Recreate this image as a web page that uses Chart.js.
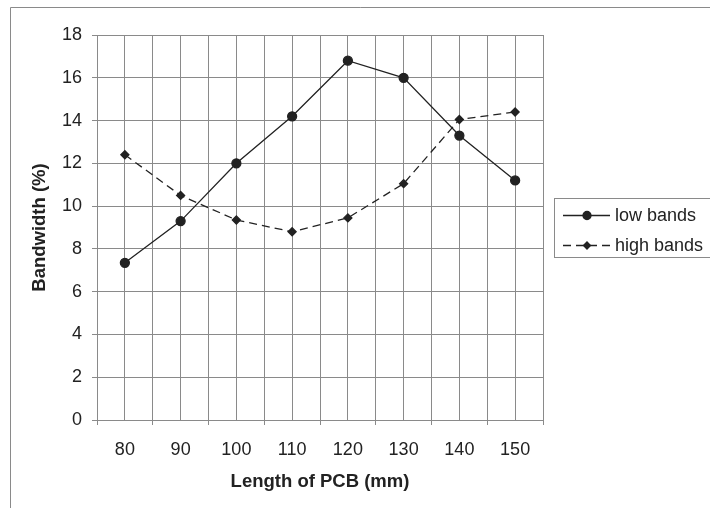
<!DOCTYPE html>
<html>
<head>
<meta charset="utf-8">
<script src="https://cdn.jsdelivr.net/npm/chart.js@4.4.1/dist/chart.umd.min.js"></script>
<style>
  body { margin: 0; background: #fff; }
  #wrap { position: relative; width: 710px; height: 508px; }
</style>
</head>
<body>
<div id="wrap"><canvas id="myChart"></canvas></div>
<script>
// Data
const lengths = [80, 90, 100, 110, 120, 130, 140, 150];
const lowBands = [7.35, 9.3, 12.0, 14.2, 16.8, 16.0, 13.3, 11.2];
const highBands = [12.4, 10.5, 9.35, 8.8, 9.45, 11.05, 14.05, 14.4];
const seriesNames = ['low bands', 'high bands'];

// Axis ranges
const yMin = 0, yMax = 18, yStep = 2;
const xMin = 75, xMax = 155, xStep = 5;

const ink = '#222';
const gridGray = '#8a8a8a';
const fontFamily = '"Liberation Sans", Arial, sans-serif';

function toPoints(values) {
  return lengths.map((x, i) => ({ x: x, y: values[i] }));
}

// frame round the whole figure and the legend box on the right
const framePlugin = {
  id: 'frame',
  beforeDraw(chart) {
    const ctx = chart.ctx;
    ctx.save();
    ctx.strokeStyle = gridGray;
    ctx.lineWidth = 1;
    ctx.beginPath();
    ctx.moveTo(10.5, 520);
    ctx.lineTo(10.5, 7.5);
    ctx.lineTo(720, 7.5);
    ctx.stroke();
    ctx.restore();
  },
  afterDraw(chart) {
    const ctx = chart.ctx;
    ctx.save();
    ctx.strokeStyle = gridGray;
    ctx.lineWidth = 1;
    ctx.strokeRect(554.5, 198.5, 170, 59);
    ctx.font = '18px ' + fontFamily;
    ctx.textBaseline = 'middle';
    chart.data.datasets.forEach((ds, i) => {
      const y = 215.5 + i * 30;
      ctx.strokeStyle = ds.borderColor;
      ctx.lineWidth = ds.borderWidth;
      ctx.setLineDash(ds.borderDash || []);
      ctx.beginPath();
      ctx.moveTo(563, y);
      ctx.lineTo(610, y);
      ctx.stroke();
      ctx.setLineDash([]);
      ctx.fillStyle = ds.pointBackgroundColor;
      ctx.strokeStyle = ds.pointBorderColor;
      Chart.helpers.drawPoint(ctx, {
        pointStyle: ds.pointStyle,
        radius: ds.pointRadius - 0.5,
        rotation: 0,
        borderWidth: 1
      }, 587, y);
      ctx.fillStyle = ink;
      ctx.fillText(ds.label, 615, y + 1);
    });
    ctx.restore();
  }
};

const chart = new Chart(document.getElementById('myChart'), {
  type: 'line',
  data: {
    datasets: [
      {
        label: seriesNames[0],
        data: toPoints(lowBands),
        borderColor: ink,
        borderWidth: 1.3,
        pointStyle: 'circle',
        pointRadius: 4.5,
        pointBackgroundColor: ink,
        pointBorderColor: ink,
        tension: 0
      },
      {
        label: seriesNames[1],
        data: toPoints(highBands),
        borderColor: ink,
        borderWidth: 1.3,
        borderDash: [8, 5],
        pointStyle: 'rectRot',
        pointRadius: 4,
        pointBackgroundColor: ink,
        pointBorderColor: ink,
        tension: 0
      }
    ]
  },
  options: {
    responsive: true,
    maintainAspectRatio: false,
    animation: false,
    layout: { padding: { left: 0, top: 35, right: 167, bottom: 0 } },
    plugins: {
      legend: { display: false },
      tooltip: { enabled: false }
    },
    scales: {
      x: {
        type: 'linear',
        min: xMin,
        max: xMax,
        afterFit(scale) { scale.height = 88; },
        border: { display: true, color: gridGray, width: 1 },
        grid: {
          color: gridGray,
          lineWidth: 1,
          tickLength: 5,
          tickColor: (c) => (c.tick && c.tick.value % 10 === 5 ? gridGray : 'rgba(0,0,0,0)')
        },
        ticks: {
          stepSize: xStep,
          autoSkip: false,
          maxRotation: 0,
          padding: 14,
          color: ink,
          font: { family: fontFamily, size: 18 },
          callback: (v) => (v % 10 === 0 && lengths.includes(v) ? String(v) : '')
        },
        title: {
          display: true,
          text: 'Length of PCB (mm)',
          color: ink,
          padding: { top: 0, bottom: 15 },
          font: { family: fontFamily, size: 18.5, weight: 'bold' }
        }
      },
      y: {
        min: yMin,
        max: yMax,
        afterFit(scale) { scale.width = 97; },
        border: { display: true, color: gridGray, width: 1 },
        grid: {
          color: gridGray,
          lineWidth: 1,
          tickLength: 5,
          tickColor: gridGray
        },
        ticks: {
          stepSize: yStep,
          padding: 10,
          color: ink,
          font: { family: fontFamily, size: 18 }
        },
        title: {
          display: true,
          text: 'Bandwidth (%)',
          color: ink,
          padding: { top: 29, bottom: 0 },
          font: { family: fontFamily, size: 18.5, weight: 'bold' }
        }
      }
    }
  },
  plugins: [framePlugin]
});
</script>
</body>
</html>
